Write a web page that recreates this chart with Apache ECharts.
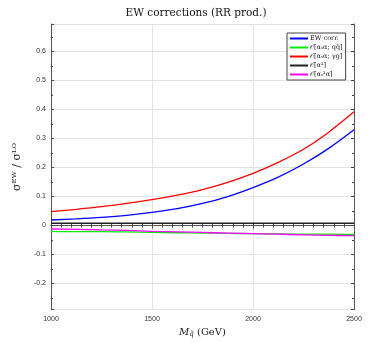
<!DOCTYPE html>
<html>
<head>
<meta charset="utf-8">
<script src="https://cdn.jsdelivr.net/npm/echarts@6/dist/echarts.min.js"></script>
<style>
  html, body { margin: 0; padding: 0; background: #fff; }
  #chart { width: 392px; height: 343px; }
</style>
</head>
<body>
<div id="chart"></div>
<script>
// squark mass (GeV)
const masses = [1000, 1125, 1250, 1375, 1500, 1625, 1750, 1875, 2000, 2125, 2250, 2375, 2500]
// sigma^EW / sigma^LO
const ewCorr = [0.019, 0.023, 0.028, 0.035, 0.045, 0.058, 0.076, 0.100, 0.131, 0.167, 0.212, 0.266, 0.330]
const qqbar = [-0.020, -0.021, -0.021, -0.022, -0.024, -0.025, -0.026, -0.027, -0.028, -0.029, -0.030, -0.030, -0.031]
const gammaG = [0.048, 0.056, 0.065, 0.076, 0.089, 0.105, 0.124, 0.149, 0.180, 0.218, 0.263, 0.322, 0.392]
const alpha2 = [0.008, 0.008, 0.008, 0.008, 0.008, 0.008, 0.008, 0.008, 0.008, 0.008, 0.008, 0.008, 0.008]
const as2a = [-0.012, -0.013, -0.015, -0.017, -0.020, -0.022, -0.024, -0.026, -0.028, -0.030, -0.032, -0.034, -0.035]

const seriesNames = ['EW corr.', '𝒪[αₛα; qq̄]', '𝒪[αₛα; γg]', '𝒪[α²]', '𝒪[αₛ²α]']
const seriesColors = ['#0000ff', '#00ee00', '#ff0000', '#222222', '#ff00ff']
const seriesData = [ewCorr, qqbar, gammaG, alpha2, as2a]

const chart = echarts.init(document.getElementById('chart'))

const tickStyle = { show: true, inside: true, length: 3, lineStyle: { color: '#444', width: 1 } }
const minorStyle = { show: true, length: 2, lineStyle: { color: '#444', width: 1 } }
const axisLineStyle = { show: true, lineStyle: { color: '#555', width: 1 } }

const option = {
  animation: false,
  backgroundColor: '#fff',
  title: {
    text: 'EW corrections (RR prod.)',
    left: 'center',
    top: 3,
    textStyle: { fontFamily: 'DejaVu Serif', fontSize: 10.5, fontWeight: 'normal', color: '#111' }
  },
  grid: { left: 51, right: 38, top: 24, bottom: 31 },
  legend: {
    orient: 'vertical',
    left: 287,
    top: 33,
    padding: [2, 3, 2, 3],
    itemGap: 2,
    itemWidth: 18,
    itemHeight: 2,
    icon: 'rect',
    borderColor: '#444',
    borderWidth: 1,
    backgroundColor: '#fff',
    textStyle: { fontFamily: 'DejaVu Serif', fontSize: 6.5, color: '#111', padding: [0, 0, 0, -3] },
    data: seriesNames
  },
  xAxis: [
    {
      type: 'value',
      min: 1000,
      max: 2500,
      interval: 500,
      position: 'bottom',
      axisLine: axisLineStyle,
      axisTick: tickStyle,
      minorTick: Object.assign({ splitNumber: 10 }, minorStyle),
      splitLine: { show: true, lineStyle: { color: '#e3e3e3', width: 1 } },
      axisLabel: { fontFamily: 'Liberation Sans', fontSize: 7, color: '#333', margin: 6, formatter: v => String(v) },
      name: '{m|M}{s|q̃} (GeV)',
      nameLocation: 'middle',
      nameGap: 17,
      nameTextStyle: {
        fontFamily: 'DejaVu Serif', fontSize: 10, color: '#222',
        rich: {
          m: { fontFamily: 'DejaVu Serif', fontStyle: 'italic', fontSize: 10, color: '#222' },
          s: { fontFamily: 'DejaVu Serif', fontStyle: 'italic', fontSize: 7, color: '#222', verticalAlign: 'bottom', padding: [4, 0, 0, 0] }
        }
      }
    },
    {
      type: 'value',
      min: 1000,
      max: 2500,
      interval: 500,
      position: 'top',
      axisLine: axisLineStyle,
      axisTick: tickStyle,
      minorTick: Object.assign({ splitNumber: 10 }, minorStyle),
      splitLine: { show: false },
      axisLabel: { show: false }
    }
  ],
  yAxis: [
    {
      type: 'value',
      min: -0.29,
      max: 0.695,
      splitNumber: 10,
      position: 'left',
      axisLine: axisLineStyle,
      axisTick: tickStyle,
      minorTick: Object.assign({ splitNumber: 2 }, minorStyle),
      splitLine: { show: true, lineStyle: { color: '#e3e3e3', width: 1 } },
      axisLabel: {
        fontFamily: 'Liberation Sans', fontSize: 7, color: '#333', margin: 5,
        formatter: v => {
          const t = Math.round(v * 10)
          if (Math.abs(v * 10 - t) > 1e-6) return ''
          return t === 0 ? '0' : (t / 10).toFixed(1)
        }
      },
      name: 'σᴱᵂ / σᴸᴼ',
      nameLocation: 'middle',
      nameRotate: 90,
      nameGap: 22,
      nameTextStyle: { fontFamily: 'DejaVu Serif', fontSize: 11, color: '#222' }
    },
    {
      type: 'value',
      min: -0.29,
      max: 0.695,
      splitNumber: 10,
      position: 'right',
      axisLine: axisLineStyle,
      axisTick: tickStyle,
      minorTick: Object.assign({ splitNumber: 2 }, minorStyle),
      splitLine: { show: false },
      axisLabel: { show: false }
    }
  ],
  series: seriesNames.map((name, i) => ({
    name: name,
    type: 'line',
    xAxisIndex: 0,
    yAxisIndex: 0,
    showSymbol: false,
    smooth: 0.3,
    data: masses.map((m, j) => [m, seriesData[i][j]]),
    color: seriesColors[i],
    lineStyle: { color: seriesColors[i], width: i === 3 ? 1.6 : 1.3 },
    z: i === 3 ? 1 : 2
  }))
}

chart.setOption(option)
</script>
</body>
</html>
